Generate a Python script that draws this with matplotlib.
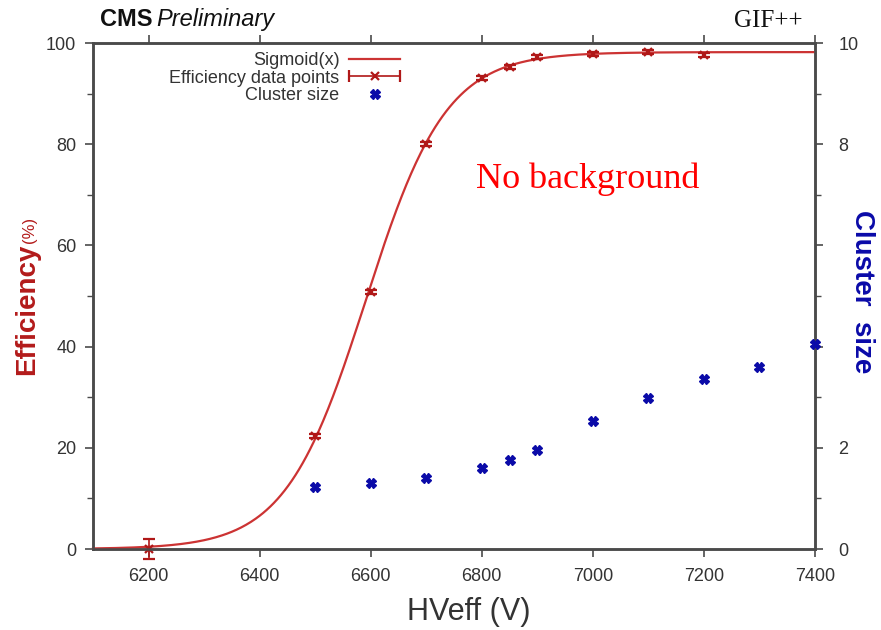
import numpy as np
import matplotlib
matplotlib.use("Agg")
import matplotlib.pyplot as plt
from matplotlib.ticker import MultipleLocator, FixedLocator, FixedFormatter
from matplotlib.legend_handler import HandlerErrorbar
from matplotlib.container import ErrorbarContainer

# ---------------- data ----------------
hv_eff = [6200, 6500, 6600, 6700, 6800, 6850, 6900, 7000, 7100, 7200]
efficiency = [0.0, 22.3, 50.7, 80.0, 93.0, 95.3, 97.3, 97.8, 98.3, 97.7]
eff_err = [2.0, 0.4, 0.4, 0.4, 0.4, 0.4, 0.4, 0.4, 0.4, 0.4]

hv_cls = [6500, 6600, 6700, 6800, 6850, 6900, 7000, 7100, 7200, 7300, 7400]
cluster_size = [1.23, 1.30, 1.40, 1.60, 1.75, 1.96, 2.52, 2.99, 3.35, 3.60, 4.05]

# sigmoid fit parameters
eff_max = 98.2
lam = 0.0138
hv50 = 6591

x_ticks = [6200, 6400, 6600, 6800, 7000, 7200, 7400]
y_left_ticks = [0, 20, 40, 60, 80, 100]
y_right_ticks = [0, 2, 4, 6, 8, 10]
y_right_labels = ["0", "2", "", "", "8", "10"]

# ---------------- style ----------------
plt.rcParams['font.family'] = ['Liberation Sans', 'DejaVu Sans']
RED_LINE = '#cc3333'
RED_PT = '#b01818'
RED_LABEL = '#b31b1b'
BLUE = '#0a0aa8'
SPINE = '#4a4a4a'
TXT = '#333333'

W, H = 881, 630
fig = plt.figure(figsize=(W / 100, H / 100), dpi=100)
ax = fig.add_axes([93 / W, 1 - 549 / H, (815 - 93) / W, (549 - 43) / H])
ax2 = ax.twinx()

# sigmoid curve
xs = np.linspace(6100, 7400, 600)
ys = eff_max / (1 + np.exp(-lam * (xs - hv50)))
ax.plot(xs, ys, color=RED_LINE, lw=1.6, zorder=5, clip_on=False, label='Sigmoid(x)')

# efficiency points
ax.errorbar(hv_eff, efficiency, yerr=eff_err, fmt='x', color=RED_PT, ms=6, mew=1.6,
            elinewidth=1.2, capsize=4, capthick=1.2, zorder=6, clip_on=False)
# legend proxy (horizontal error bar style)
proxy = ax.errorbar([np.nan], [np.nan], xerr=[1], fmt='x', color=RED_PT, ms=6, mew=1.6,
                    elinewidth=1.2, capsize=4, capthick=1.2, label='Efficiency data points')

# cluster size points
ax2.plot(hv_cls, cluster_size, linestyle='none', marker='X', ms=6.5, color=BLUE,
         mec=BLUE, clip_on=False, zorder=6, label='Cluster size')

# axes limits
ax.set_xlim(6100, 7400)
ax.set_ylim(0, 100)
ax2.set_ylim(0, 10)

# ticks
ax.xaxis.set_major_locator(FixedLocator(x_ticks))
ax.yaxis.set_major_locator(FixedLocator(y_left_ticks))
ax.yaxis.set_minor_locator(MultipleLocator(10))
ax2.yaxis.set_major_locator(FixedLocator(y_right_ticks))
ax2.yaxis.set_major_formatter(FixedFormatter(y_right_labels))
ax2.yaxis.set_minor_locator(MultipleLocator(1))

ax.tick_params(axis='x', which='both', direction='out', top=True, bottom=True,
               length=6, width=1.2, color=SPINE, labelsize=13, labelcolor=TXT, pad=8)
ax.tick_params(axis='y', which='major', direction='out', left=True, right=False,
               length=6, width=1.2, color=SPINE, labelsize=13, labelcolor=TXT, pad=6)
ax.tick_params(axis='y', which='minor', direction='out', length=4, width=1.0, color=SPINE)
ax2.tick_params(axis='y', which='major', direction='out', right=True, length=6, width=1.2,
                color=SPINE, labelsize=13, labelcolor=TXT, pad=11)
ax2.tick_params(axis='y', which='minor', direction='out', length=4, width=1.0, color=SPINE)

for a in (ax, ax2):
    for s in a.spines.values():
        s.set_color(SPINE)
        s.set_linewidth(1.8)

# legend
h1, l1 = ax.get_legend_handles_labels()
h2, l2 = ax2.get_legend_handles_labels()
handles = h1 + h2
labels = l1 + l2
leg = ax2.legend(handles, labels, loc='upper right', bbox_to_anchor=(400 / W, 1 - 52 / H),
                 bbox_transform=fig.transFigure, frameon=False, markerfirst=False,
                 fontsize=13, handlelength=2.8, handletextpad=0.55, labelspacing=0.03,
                 borderpad=0, borderaxespad=0, numpoints=1,
                 handler_map={ErrorbarContainer: HandlerErrorbar(xerr_size=1.4)})
for t in leg.get_texts():
    t.set_color(TXT)

# labels
fig.text(469 / W, 1 - 620 / H, 'HVeff (V)', fontsize=22, color=TXT, ha='center', va='baseline')
fig.text(34 / W, 1 - 375 / H, 'Efficiency', fontsize=20, fontweight='bold', color=RED_LABEL,
         rotation=90, rotation_mode='anchor', ha='left', va='baseline')
fig.text(34 / W, 1 - 243 / H, '(%)', fontsize=12, color=RED_LABEL,
         rotation=90, rotation_mode='anchor', ha='left', va='baseline')
fig.text(862 / W, 1 - 292 / H, 'Cluster  size', fontsize=20, fontweight='bold', color=BLUE,
         rotation=-90, ha='center', va='center')

# header texts
cms = fig.text(100 / W, 1 - 26 / H, 'CMS', fontsize=17, fontweight='bold', color='#111111',
               ha='left', va='baseline')
ax.annotate('Preliminary', xy=(1, 0), xycoords=cms, xytext=(3, 0), textcoords='offset points',
            fontsize=17, fontstyle='italic', color='#111111', ha='left', va='bottom',
            annotation_clip=False)
fig.text(803 / W, 1 - 27 / H, 'GIF++', fontsize=18, family='Liberation Serif', color='#111111',
         ha='right', va='baseline')

ax.text(6990, 73, 'No background', fontsize=26, family='Liberation Serif', color='#ff0000',
        ha='center', va='center')

fig.savefig('out.png', dpi=100)
